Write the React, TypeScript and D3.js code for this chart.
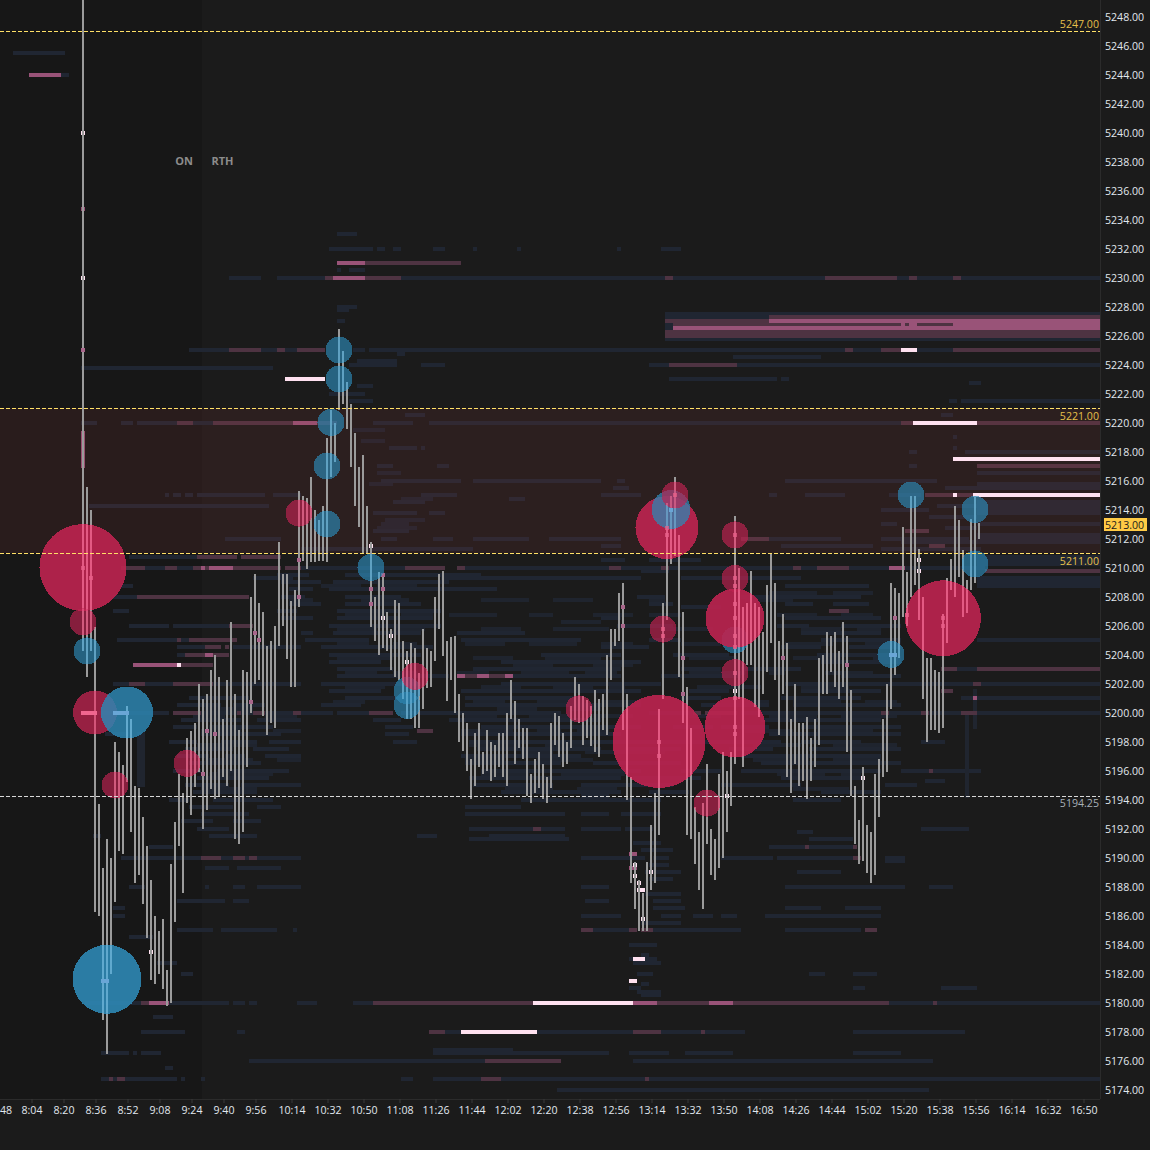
import React from "react";
import * as d3 from "d3";

const SIZE = 1150;
const plotW = 1100;
const plotH = 1099;

// ---- axes
const priceTicks = d3.range(5174, 5250, 2);
const timeLabels = ["8:04","8:20","8:36","8:52","9:08","9:24","9:40","9:56","10:14","10:32","10:50","11:08","11:26","11:44","12:02","12:20","12:38","12:56","13:14","13:32","13:50","14:08","14:26","14:44","15:02","15:20","15:38","15:56","16:14","16:32","16:50"];
const edgeTimeLabel = "48";
const firstBarMinute = 509.5;
const firstCellMinute = 508.5;

// ---- price bars: high and low of each two-minute bar
const barHigh = [5251,5215.6,5214,5205.9,5193.75,5189.3,5191.3,5190,5198,5197.3,5196.4,5200.5,5199.6,5195,5194.8,5192.8,5190.8,5188.5,5186,5185,5185.8,5182.25,5189.6,5192.5,5195.8,5194.5,5198.3,5198.75,5199.3,5202,5201,5201.3,5203,5204,5202.5,5199.6,5202.3,5206.3,5201.3,5198.8,5203,5202.8,5208,5209.6,5207.6,5207,5204.6,5205,5206,5211.8,5209.6,5209.6,5207.75,5208.5,5215.3,5215,5214.8,5216.3,5214,5213.3,5214.3,5219,5220.9,5220,5226.5,5225,5222.8,5221.3,5219.3,5217,5217.8,5214.3,5211.8,5208,5209.75,5209.6,5207,5205.8,5207.8,5207.6,5205,5204.3,5204.8,5204.5,5202.75,5205.8,5204.5,5204.3,5208,5209.6,5209.8,5205,5205.25,5205.3,5201.3,5200,5199.3,5196.8,5198.6,5199.3,5197.3,5198.8,5198,5197.8,5198.6,5198.6,5200,5202.3,5200.8,5199.6,5199,5199,5195.8,5196.8,5197.3,5196.5,5195.6,5199.3,5200,5199.8,5198.6,5198,5200.5,5202.5,5202,5201.2,5200.9,5200.5,5201.6,5201,5201.3,5204,5205.8,5205.8,5208.3,5209,5201.3,5195.6,5189.7,5188.5,5187.6,5189.7,5192.3,5194.5,5200.3,5207.6,5214.5,5215,5216.25,5212.3,5207,5201.8,5199,5193.5,5191.8,5193.8,5196.5,5192,5191.3,5195.8,5197.3,5196,5197.3,5213.6,5210,5207.3,5207.6,5209.8,5207.6,5207.3,5205.6,5208.8,5211,5209,5205,5206.8,5204.8,5199.6,5202,5199.3,5199.3,5199.7,5198.3,5199.6,5203.8,5204,5205.6,5205.3,5205.6,5204.3,5206.3,5205.3,5201.6,5195,5192.6,5196.3,5192.3,5191.8,5195.8,5196.8,5199.6,5202,5209,5208.6,5208.3,5212.8,5209.7,5215,5215,5211.3,5208,5203.8,5203.8,5203,5202.8,5206.8,5209.3,5210.6,5214.3,5213.3,5211.25,5209.2,5213.4,5215,5213.1];
const barLow = [5204.3,5202.5,5204.3,5186.25,5186,5178.8,5176.5,5182,5187,5190.5,5190.3,5195.25,5191.8,5188.3,5188.8,5186.8,5184.5,5181.6,5181.3,5182,5181,5179.8,5180,5185.6,5190.8,5187.6,5193.8,5193,5194.9,5195.9,5192,5193.3,5194.75,5194.1,5194.3,5195.6,5195,5196,5191.3,5191,5191.8,5196.3,5200,5202,5202.3,5199.8,5198.5,5199.3,5199,5204.6,5206,5203.75,5201.8,5201.8,5207.3,5210.5,5209.9,5210.4,5210.4,5210.5,5210.5,5210.4,5216.3,5217.3,5220.9,5221.3,5219.6,5217,5214.3,5212.8,5211,5211,5205.9,5205,5204,5204.5,5204.3,5203,5202.5,5202.3,5201,5199.6,5199.6,5199,5199,5200.3,5201.7,5201.8,5203.6,5205.8,5203.9,5200.8,5202.3,5200,5198,5197.4,5196,5194.1,5195,5196.3,5195.8,5196,5195.3,5195.6,5196.3,5195.6,5195,5199.6,5196.5,5197.6,5196.8,5194.3,5193.8,5194.5,5194.8,5194.1,5193.8,5194.8,5197.8,5197,5196.3,5196.5,5197.6,5199.5,5199.3,5197.8,5198.3,5197.7,5197.3,5197,5198.8,5198.5,5202.3,5204.6,5205,5198.8,5194,5188.3,5186.5,5185,5185,5185,5187.8,5188.3,5191.6,5201,5206.4,5210.3,5210.8,5202.5,5199.3,5191.6,5191.3,5189.6,5187.8,5186.5,5191,5188.8,5188.5,5189.3,5190,5191.8,5193.6,5196.5,5201,5196.3,5203.3,5203.3,5200.4,5199.7,5201.3,5202.8,5204.8,5202.3,5198.5,5201.3,5195.6,5194.5,5196.5,5195,5195.3,5194.1,5195.3,5196.3,5197.8,5201.3,5201.3,5202.8,5201.8,5201,5201.8,5197.3,5194.3,5191,5189.6,5189.8,5189,5188.3,5188.8,5192.8,5195.6,5195.9,5200.3,5202.6,5203.8,5206.6,5206,5208,5208.8,5206.4,5201,5198,5198.8,5198.8,5198.6,5199,5204.8,5208.5,5208,5209.4,5206.6,5206.9,5208.5,5209,5212];

// ---- volume bubbles: bar index, price, volume, side
const bubbleBar = [0,0,1,3,11,8,6,26,54,61,61,62,64,64,72,81,81,83,124,144,163,156,145,146,147,148,163,163,163,163,163,202,207,215,223,223];
const bubblePrice = [5210,5206.25,5204.25,5200,5200,5195,5181.6,5196.5,5213.75,5213,5217,5220,5223,5225,5210,5201.5,5200.5,5202.5,5200.25,5198,5199,5193.75,5205.75,5212.75,5214,5215,5212.25,5209.25,5205,5206.5,5202.75,5204,5215,5206.5,5214,5210.25];
const bubbleVolume = [1892,182,182,484,676,182,1190,182,182,182,182,182,182,182,182,182,182,182,182,2162,930,182,182,992,380,182,182,182,182,870,182,182,182,1444,182,182];
const bubbleSide = ["s","s","b","s","b","s","b","s","s","b","b","b","b","b","b","b","b","s","s","s","s","s","s","s","b","s","s","s","b","s","s","b","b","s","b","b"];

// ---- resting order rows: price, first column, last column
const midRows = [[5244,-13,-5],[5234.75,0,1],[5231,64,71],[5230,63,71],[5227,172,255],[5226.75,218,255],[5226.75,205,206],[5226.75,207,209],[5226.5,148,255],[5220,53,59],[5210,30,31],[5210,32,38],[5210,202,206],[5203.25,13,24],[5204,31,33],[5202.5,94,96],[5202.5,99,102],[5202.5,106,108],[5201,223,224],[5180,17,22],[5180,138,144],[5180,157,163],[5190.25,137,139],[5189.25,137,139]];
const dimRows = [[5231,71,95],[5230,61,63],[5230,71,80],[5230,146,148],[5230,186,204],[5230,207,209],[5230,218,220],[5227.25,172,255],[5227,146,172],[5226.75,148,205],[5226.75,206,207],[5226.75,209,218],[5226.25,146,255],[5226,146,255],[5225,0,1],[5225,37,45],[5225,49,51],[5225,54,61],[5225,191,193],[5225,200,205],[5225,218,255],[5224,147,164],[5220,24,28],[5220,33,53],[5220,59,64],[5220,205,208],[5220,224,255],[5217,224,255],[5215,211,218],[5215,219,223],[5212.5,206,212],[5212,165,172],[5211.5,212,216],[5210.75,29,39],[5210.75,40,50],[5210,10,16],[5210,21,24],[5210,28,30],[5210,31,32],[5210,38,50],[5210,51,55],[5210,81,91],[5210,94,96],[5210,132,135],[5210,145,147],[5210,178,180],[5210,184,192],[5209.75,226,255],[5208,14,42],[5207,187,192],[5206,37,43],[5205,24,25],[5205,27,39],[5204.5,31,35],[5204.5,36,37],[5204,26,31],[5204,33,37],[5203.25,25,33],[5203,215,219],[5203,224,255],[5202.5,96,99],[5202.5,102,106],[5202,12,16],[5202,23,33],[5202,223,225],[5201.5,215,218],[5200,23,30],[5200,39,40],[5200,43,46],[5200,53,55],[5200,72,78],[5200,153,155],[5200,156,164],[5200,200,202],[5200,210,212],[5200,220,224],[5198.75,84,88],[5196,212,213],[5192,113,115],[5190.75,181,182],[5190.75,193,194],[5190,30,35],[5190,38,41],[5190,42,44],[5190,193,195],[5185,125,128],[5185,137,139],[5185,140,143],[5185,196,199],[5180,15,17],[5180,73,113],[5180,144,157],[5180,163,202],[5180,213,214],[5178,87,91],[5178,138,145],[5178,155,156],[5176,101,120],[5174.75,7,8],[5174.75,9,11],[5174.75,100,105],[5174.75,141,142]];
const brightRows = [[5225,205,209],[5223,51,61],[5220,208,224],[5217.5,218,255],[5215,218,219],[5215,223,255],[5203.25,24,25],[5183,138,141],[5181.5,137,139],[5187.75,139,141],[5180,113,138],[5178,95,114]];
const navyRows = [[5245.5,-17,-4],[5244,-5,-3],[5233,64,69],[5232,62,73],[5232,74,76],[5232,78,80],[5232,88,91],[5232,98,99],[5232,109,110],[5232,134,135],[5232,145,150],[5230.5,64,65],[5230.5,67,71],[5230,37,45],[5230,49,61],[5230,80,146],[5230,148,186],[5230,204,207],[5230,209,218],[5230,220,255],[5228,64,69],[5227.75,64,67],[5227.5,146,255],[5227.25,146,172],[5227,64,66],[5226.75,146,148],[5226.5,146,148],[5225.75,146,255],[5225,27,37],[5225,45,49],[5225,51,54],[5225,68,71],[5225,72,191],[5225,193,200],[5225,209,218],[5224.75,79,81],[5224.5,163,185],[5224.25,69,79],[5224,67,79],[5224,85,91],[5224,142,147],[5224,164,255],[5223.75,0,48],[5223,147,174],[5223,175,177],[5222.75,222,225],[5222.5,69,73],[5222,62,71],[5221.5,67,73],[5221.5,217,219],[5221.5,220,255],[5220.5,81,86],[5220.5,215,218],[5220,0,4],[5220,10,13],[5220,14,24],[5220,28,33],[5220,73,83],[5220,87,205],[5219,218,219],[5218.25,77,84],[5218.25,85,86],[5218.25,218,219],[5218,207,209],[5218,221,255],[5217,74,78],[5217,89,92],[5217,207,209],[5216.5,224,255],[5216,75,95],[5216,98,130],[5216,134,136],[5216,176,200],[5216,200,214],[5215.75,224,255],[5215.5,133,137],[5215.5,216,224],[5215.5,224,255],[5215,21,22],[5215,23,25],[5215,26,28],[5215,29,46],[5215,48,55],[5215,85,94],[5215,130,140],[5215,172,174],[5215,181,191],[5215,202,210],[5214.75,107,111],[5214.5,78,86],[5214.5,224,255],[5214.25,2,47],[5214.25,214,255],[5214,200,212],[5214,224,255],[5213.75,73,84],[5213.75,87,91],[5213.75,224,255],[5213.5,212,224],[5213,200,204],[5213,224,255],[5212.75,216,224],[5212.5,73,82],[5212.25,224,255],[5212,36,50],[5212,75,79],[5212,88,93],[5212,98,112],[5212,117,135],[5212,172,190],[5212,200,222],[5212,224,255],[5211.75,205,224],[5211.75,224,255],[5211.5,130,135],[5211.5,175,198],[5211.25,55,98],[5211.25,200,225],[5210.75,12,29],[5210.75,224,255],[5210.5,130,136],[5210.5,142,155],[5210.5,224,255],[5210.25,224,255],[5210,16,21],[5210,24,28],[5210,55,81],[5210,96,132],[5210,135,145],[5210,147,178],[5210,180,184],[5210,192,202],[5210,206,226],[5209.75,140,147],[5209.5,49,57],[5209.5,66,100],[5209.25,43,53],[5209.25,90,140],[5209.25,150,180],[5209.25,224,255],[5209,50,60],[5209,63,92],[5209,224,255],[5208.75,10,13],[5208.75,176,197],[5208.75,224,255],[5208.5,52,58],[5208.5,62,104],[5208,8,14],[5208,50,56],[5208,66,80],[5208,139,146],[5208,165,195],[5207.5,52,60],[5207.5,66,85],[5207.5,142,148],[5207.5,176,183],[5207.5,188,197],[5207.25,150,160],[5207,8,12],[5207,49,54],[5207,64,90],[5206.5,50,58],[5206.5,64,88],[5206.5,130,135],[5206.5,176,200],[5206,12,22],[5206,23,37],[5206,62,90],[5206,134,148],[5206,174,182],[5206,190,205],[5205.5,55,58],[5205.5,63,85],[5205.5,94,111],[5205.5,180,200],[5205,9,24],[5205,25,27],[5205,56,72],[5205,95,125],[5205,142,150],[5205,185,205],[5205,224,255],[5204.5,24,31],[5204.5,38,55],[5204.5,60,88],[5204.5,130,142],[5204.5,175,185],[5204.5,192,205],[5204,24,26],[5204,62,85],[5204,115,135],[5204,148,162],[5204,184,203],[5203.5,62,75],[5203.5,105,140],[5203.5,185,205],[5203,64,78],[5203,98,135],[5203,150,160],[5203,165,180],[5203,219,224],[5202.5,64,92],[5202.5,108,135],[5202.5,145,165],[5202.5,190,205],[5202,8,12],[5202,16,23],[5202,33,55],[5202,60,85],[5202,105,130],[5202,130,145],[5202,176,205],[5202,205,223],[5202,225,255],[5201.5,62,75],[5201.5,95,140],[5201.5,152,162],[5201.5,180,200],[5201,27,42],[5201,66,80],[5201,96,125],[5201,150,160],[5201,175,195],[5201,220,223],[5201,224,255],[5200.5,24,35],[5200.5,38,46],[5200.5,60,70],[5200.5,96,140],[5200.5,155,172],[5200.5,178,205],[5200,4,8],[5200,12,22],[5200,30,39],[5200,40,43],[5200,46,53],[5200,55,63],[5200,64,72],[5200,80,120],[5200,142,153],[5200,165,200],[5200,202,210],[5200,212,220],[5200,224,255],[5199.5,25,40],[5199.5,44,55],[5199.5,73,80],[5199.5,92,130],[5199.5,170,200],[5199,23,29],[5199,32,48],[5199,76,83],[5199,100,140],[5199,148,158],[5199,160,172],[5199,180,205],[5198.5,6,12],[5198.5,30,50],[5198.5,76,82],[5198.5,95,135],[5198.5,172,205],[5198,22,29],[5198,35,44],[5198,47,55],[5198,78,84],[5198,97,145],[5198,145,175],[5198,180,195],[5198,210,216],[5197.5,26,38],[5197.5,43,52],[5197.5,99,130],[5197.5,136,150],[5197.5,162,173],[5197.5,182,205],[5197,24,32],[5197,36,41],[5197,46,55],[5197,95,125],[5197,165,200],[5196.5,27,45],[5196.5,96,120],[5196.5,128,150],[5196.5,170,205],[5196,23,30],[5196,34,52],[5196,100,140],[5196,150,160],[5196,165,200],[5196,205,212],[5196,213,225],[5195.5,29,47],[5195.5,97,135],[5195.5,138,155],[5195.5,175,195],[5195.25,211,216],[5195,26,37],[5195,40,55],[5195,98,118],[5195,125,148],[5195,160,180],[5195,201,209],[5194.5,28,44],[5194.5,105,135],[5194.5,142,152],[5194.5,185,200],[5194.25,125,132],[5194,22,27],[5194,33,48],[5194,110,145],[5194,178,190],[5193.5,27,38],[5193.5,44,50],[5193.5,96,110],[5193,30,42],[5193,96,121],[5193,125,132],[5193,135,145],[5192.5,25,33],[5192.5,38,45],[5192,29,37],[5192,97,121],[5192,125,135],[5192,136,143],[5192,210,222],[5191.75,179,183],[5191.5,3,5],[5191.5,32,44],[5191.5,84,89],[5191.5,102,121],[5191.25,97,122],[5191.25,182,193],[5191,138,145],[5190.75,17,23],[5190.75,172,181],[5190.75,182,193],[5190.5,140,148],[5190,10,30],[5190,35,38],[5190,41,42],[5190,44,55],[5190,125,141],[5190,143,147],[5190,160,166],[5190,165,173],[5190,174,193],[5190,201,206],[5189.75,201,206],[5189.5,142,147],[5189.25,31,37],[5189.25,39,45],[5189.25,45,50],[5189,141,150],[5189,179,190],[5188.5,142,148],[5188,12,16],[5188,31,32],[5188,38,41],[5188,44,55],[5188,125,132],[5188,176,198],[5188,195,206],[5188,212,218],[5187.5,141,150],[5187,24,36],[5187,38,42],[5187,126,132],[5187,143,150],[5186.5,8,11],[5186.5,143,151],[5186.5,176,185],[5186.5,191,200],[5186,8,11],[5186,125,135],[5186,145,150],[5186,153,158],[5186,160,164],[5186,171,200],[5185.5,140,150],[5185,24,33],[5185,35,38],[5185,38,49],[5185,53,54],[5185,128,137],[5185,143,165],[5185,176,195],[5184.5,12,18],[5184,137,144],[5183.25,140,142],[5183,137,144],[5182.75,19,24],[5182.75,138,145],[5182,25,28],[5182,139,143],[5182,182,186],[5182,193,199],[5181.25,140,142],[5181,137,140],[5181,193,196],[5181,215,224],[5180.75,139,145],[5180.5,140,145],[5180,1,15],[5180,22,37],[5180,38,41],[5180,42,44],[5180,54,59],[5180,68,73],[5180,202,213],[5180,214,255],[5179,18,23],[5178,15,26],[5178,39,41],[5178,91,95],[5178,114,138],[5178,145,155],[5178,156,166],[5178,193,221],[5176.75,88,108],[5176.5,5,12],[5176.5,13,14],[5176.5,15,20],[5176.5,88,132],[5176.5,137,147],[5176.5,151,163],[5176.5,193,205],[5176,42,101],[5176,138,213],[5175.5,21,23],[5174.75,5,7],[5174.75,8,9],[5174.75,11,24],[5174.75,25,26],[5174.75,30,31],[5174.75,80,83],[5174.75,88,100],[5174.75,105,141],[5174.75,142,255],[5174,119,212]];
// thinner, broken-up liquidity that fills in the clusters around the traded range
const navyFillRows = [[5199.75,28,36],[5199.75,46,54],[5198.75,30,40],[5198.75,48,55],[5197.75,29,44],[5196.75,31,43],[5196.75,49,55],[5195.75,32,48],[5194.75,30,44],[5200.25,31,43],
[5208.75,60,70],[5208.75,74,84],[5207.75,52,58],[5207.75,70,82],[5206.75,66,76],[5206.75,80,88],[5205.75,64,74],[5205.75,78,86],[5204.75,64,72],[5204.75,78,84],[5203.75,64,78],[5202.75,66,74],[5202.75,78,84],[5201.75,66,76],[5200.75,63,71],[5213,75,82],[5212.75,74,84],[5213.25,76,86],[5214.75,80,88],[5216.5,74,80],[5218.75,70,76],[5219.5,68,76],[5215.75,72,78],
[5207.75,100,112],[5207.75,118,128],[5206.75,92,104],[5206.75,112,118],[5206.75,128,138],[5205.75,100,110],[5205.75,118,132],[5204.75,96,106],[5204.75,112,124],[5204.75,130,138],[5203.75,98,108],[5203.75,116,130],[5202.75,94,102],[5202.75,110,122],[5202.75,126,134],[5201.75,100,110],[5201.75,118,128],[5201.75,132,136],[5200.75,98,106],[5200.75,114,126],[5200.75,130,140],[5199.75,96,104],[5199.75,112,122],[5199.75,128,138],[5198.75,95,108],[5198.75,114,120],[5198.75,124,132],[5197.75,97,110],[5197.75,116,128],[5196.75,96,106],[5196.75,114,128],[5195.75,100,112],[5195.75,120,136],[5194.75,106,118],[5194.75,124,134],[5206.25,120,130],[5203.25,108,118],[5203.25,128,138],[5200.25,104,114],[5200.25,122,130],[5197.25,110,118],[5197.25,126,146],
[5208.25,172,184],[5208.25,188,198],[5207.75,142,146],[5207.75,166,178],[5206.75,142,150],[5206.75,174,184],[5206.75,190,198],[5205.75,146,158],[5205.75,180,190],[5205.75,194,200],[5204.75,150,160],[5204.75,176,188],[5204.75,196,205],[5203.75,152,164],[5203.75,178,190],[5203.75,198,205],[5202.75,152,166],[5202.75,172,176],[5202.75,186,198],[5201.75,154,170],[5201.75,180,192],[5200.75,160,172],[5200.75,178,190],[5200.75,196,204],[5199.75,152,160],[5199.75,172,184],[5199.75,190,204],[5198.75,166,178],[5198.75,184,198],[5197.75,168,180],[5197.75,188,204],[5196.75,168,182],[5196.75,188,200],[5195.75,174,186],[5195.75,190,195],[5194.75,178,192]];
// taller clusters of thin liquidity: low, high, first column, last column
const navyBlocks = [[5195,5198.5,14,16],[5194.25,5200,221,222],[5199,5201.5,223,224]];
const tallMidBlocks = [[5217,5219.25,0,1]];

// ---- single cells printed over the bars
const tradeCells = [[0,5240],[0,5230],[72,5211.5],[75,5206.5],[77,5205.25],[81,5203.5],[138,5189.5],[138,5188.75],[139,5188.25],[142,5189],[140,5185.75],[163,5201.5],[195,5195.5],[161,5194.25],[209,5210.5],[209,5209.75],[17,5183.5]];
const softCells = [[2,5209.25],[43,5205.5],[44,5205],[42,5200.75],[31,5198.75],[33,5198.5],[30,5195.75],[54,5210.5],[54,5208],[72,5208.5],[72,5207.5],[75,5209.5],[75,5208.5],[135,5207.25],[135,5206],[150,5203.75],[150,5201.25],[175,5203.75],[191,5203.25],[203,5206.5],[0,5225]];
const hotCells = [[0,5210],[2,5209.25],[146,5212.75],[146,5212.25],[148,5215],[145,5205.75],[145,5205.25],[163,5212.25],[163,5209.25],[163,5208.75],[163,5207.5],[163,5206.5],[163,5205.25],[163,5204.5],[163,5202.75],[163,5201],[163,5199],[163,5198.5],[144,5198],[144,5197],[215,5206.5],[215,5206],[206,5206.75]];
const hotStrips = [[5200,0,4],[5200,1,3]];
const coolStrips = [[5200,8,12],[5200,9,10],[5181.5,5,7],[5204,202,204],[5214,147,148]];

// ---- key levels
const levelPrices = [5247, 5221, 5211, 5194.25];
const levelColors = ["#ffe066", "#ffe066", "#ffe066", "#d8d8d8"];
const levelText = ["5247.00", "5221.00", "5211.00", "5194.25"];
const levelTextColor = ["#e6c04a", "#e6c04a", "#e6c04a", "#a8b0b8"];
const levelTextDy = [-8, 7, 7, 7];
const bandPrices = [5211, 5221];
const lastPrice = 5213;

const y = d3.scaleLinear().domain([5174, 5248]).range([1090, 17]);
const time = d3.scaleLinear().domain([484, 1010]).range([32, 1084]);
const barX = (k: number) => time(firstBarMinute + 2 * k);
const cellX = (c: number) => time(firstCellMinute + 2 * c);
const radius = d3.scaleSqrt().domain([0, 2162]).range([0, 46.5]);
const bubbleOpacity = d3.scaleLinear().domain([182, 900]).range([0.67, 0.9]).clamp(true);
const toMinutes = (s: string) => { const [h, m] = s.split(":").map(Number); return h * 60 + m; };

const FONT = "'Open Sans', 'Noto Sans', sans-serif";
const Rows = ({ rows, fill }: { rows: number[][]; fill: string }) => (
  <g fill={fill}>
    {rows.map((r, i) => (
      <rect key={i} x={cellX(r[1])} y={y(r[0]) - 2.5} width={cellX(r[2]) - cellX(r[1])} height={4} />
    ))}
  </g>
);
const Blocks = ({ rows, fill }: { rows: number[][]; fill: string }) => (
  <g fill={fill}>
    {rows.map((r, i) => (
      <rect key={i} x={cellX(r[2])} y={y(r[1]) - 2.5} width={cellX(r[3]) - cellX(r[2])} height={y(r[0]) - y(r[1]) + 4} />
    ))}
  </g>
);
const Cells = ({ cells, fill, opacity = 1 }: { cells: number[][]; fill: string; opacity?: number }) => (
  <g fill={fill} fillOpacity={opacity}>
    {cells.map((c, i) => (
      <rect key={i} x={barX(c[0]) - 2} y={y(c[1]) - 2.5} width={4} height={4} />
    ))}
  </g>
);

export default function App() {
  const bubbles = bubbleBar.map((b, i) => ({
    cx: barX(b), cy: y(bubblePrice[i]) - 0.5, r: radius(bubbleVolume[i]),
    op: bubbleOpacity(bubbleVolume[i]), side: bubbleSide[i],
  }));
  return (
    <svg width={SIZE} height={SIZE} viewBox={`0 0 ${SIZE} ${SIZE}`} style={{ position: "fixed", left: 0, top: 0, display: "block", background: "#1b1b1b" }}>
      <defs>
        <clipPath id="plot"><rect x={0} y={0} width={plotW} height={plotH} /></clipPath>
        {bubbles.map((b, i) => (
          <clipPath id={`bub${i}`} key={i}><circle cx={b.cx} cy={b.cy} r={b.r} /></clipPath>
        ))}
      </defs>
      <g clipPath="url(#plot)" shapeRendering="crispEdges">
        <rect x={0} y={0} width={plotW} height={plotH} fill="#1b1b1b" />
        <rect x={0} y={0} width={202} height={plotH} fill="#171717" />
        <Rows rows={navyFillRows} fill="#1f242e" />
        <Rows rows={navyRows} fill="#202632" />
        <Blocks rows={navyBlocks} fill="#20252f" />
        <Rows rows={dimRows} fill="#4e3342" />
        <Rows rows={midRows} fill="#995378" />
        <Blocks rows={tallMidBlocks} fill="#995378" />
        <rect x={0} y={Math.floor(y(bandPrices[1]))} width={plotW} height={y(bandPrices[0]) - y(bandPrices[1])} fill="rgb(150,60,60)" fillOpacity={0.15} />
        <Rows rows={brightRows} fill="#ffe1f0" />
        <g fill="#9b9b9b">
          {barHigh.map((h, k) => (
            <rect key={k} x={barX(k) - 1} y={y(h)} width={2} height={y(barLow[k]) - y(h)} />
          ))}
        </g>
        <Cells cells={softCells} fill="#a8668a" />
        <Cells cells={tradeCells} fill="#ffe1f0" />
        <g fill="#9b9b9b">
          {tradeCells.map((c, i) => (
            <rect key={i} x={barX(c[0]) - 1} y={y(c[1]) - 2.5} width={2} height={4} />
          ))}
        </g>
        {bubbles.map((b, i) => (
          <g key={i}>
            <circle cx={b.cx} cy={b.cy} r={b.r} fill={b.side === "s" ? "#be2350" : "#2d87b4"} fillOpacity={b.op} />
            <g clipPath={`url(#bub${i})`} fill={b.side === "s" ? "#f06a92" : "#6db4d8"} fillOpacity={b.r > 25 ? 0.75 : 0.5}>
              {barHigh.map((h, k) =>
                Math.abs(barX(k) - b.cx) <= b.r + 1 ? (
                  <rect key={k} x={barX(k) - 1} y={y(h)} width={2} height={y(barLow[k]) - y(h)} />
                ) : null
              )}
            </g>
          </g>
        ))}
        <Cells cells={hotCells} fill="#e8608a" opacity={0.75} />
        <Rows rows={hotStrips} fill="#f0668f" />
        <Rows rows={coolStrips} fill="#6aa6d6" />
      </g>
      {levelPrices.map((p, i) => (
        <line key={i} x1={0} x2={plotW} y1={Math.floor(y(p)) + 0.5} y2={Math.floor(y(p)) + 0.5} stroke={levelColors[i]} strokeDasharray="4 2" shapeRendering="crispEdges" />
      ))}
      {levelPrices.map((p, i) => (
        <text key={i} x={1099} y={y(p) + levelTextDy[i]} textAnchor="end" dominantBaseline="central" fontFamily={FONT} fontSize={10.6} fill={levelTextColor[i]}>{levelText[i]}</text>
      ))}
      <text x={184} y={160.5} textAnchor="middle" dominantBaseline="central" fontFamily={FONT} fontSize={11} fontWeight={700} fill="#8c8c8c">ON</text>
      <text x={222.5} y={160.5} textAnchor="middle" dominantBaseline="central" fontFamily={FONT} fontSize={11} fontWeight={700} fill="#8c8c8c">RTH</text>
      <line x1={plotW + 0.5} x2={plotW + 0.5} y1={0} y2={plotH} stroke="#2b2b2b" />
      <line x1={0} x2={plotW} y1={plotH + 0.5} y2={plotH + 0.5} stroke="#2b2b2b" />
      {priceTicks.map((p) => (
        <text key={p} x={1105} y={y(p)} dominantBaseline="central" fontFamily={FONT} fontSize={10.6} fill="#e2e8ef">{p.toFixed(2)}</text>
      ))}
      <rect x={1104} y={Math.floor(y(lastPrice)) - 6} width={43} height={13} fill="#ffcb45" shapeRendering="crispEdges" />
      <text x={1105} y={y(lastPrice)} dominantBaseline="central" fontFamily={FONT} fontSize={10.6} fill="#1b1b1b">{lastPrice.toFixed(2)}</text>
      <text x={0} y={1110} dominantBaseline="central" fontFamily={FONT} fontSize={10.6} fill="#e2e8ef">{edgeTimeLabel}</text>
      {timeLabels.map((t) => {
        const tx = time(toMinutes(t));
        return (
          <g key={t}>
            <line x1={tx} x2={tx} y1={plotH} y2={plotH + 4} stroke="#3a3a3a" />
            <text x={tx} y={1110} textAnchor="middle" dominantBaseline="central" fontFamily={FONT} fontSize={10.6} fill="#e2e8ef">{t}</text>
          </g>
        );
      })}
    </svg>
  );
}
